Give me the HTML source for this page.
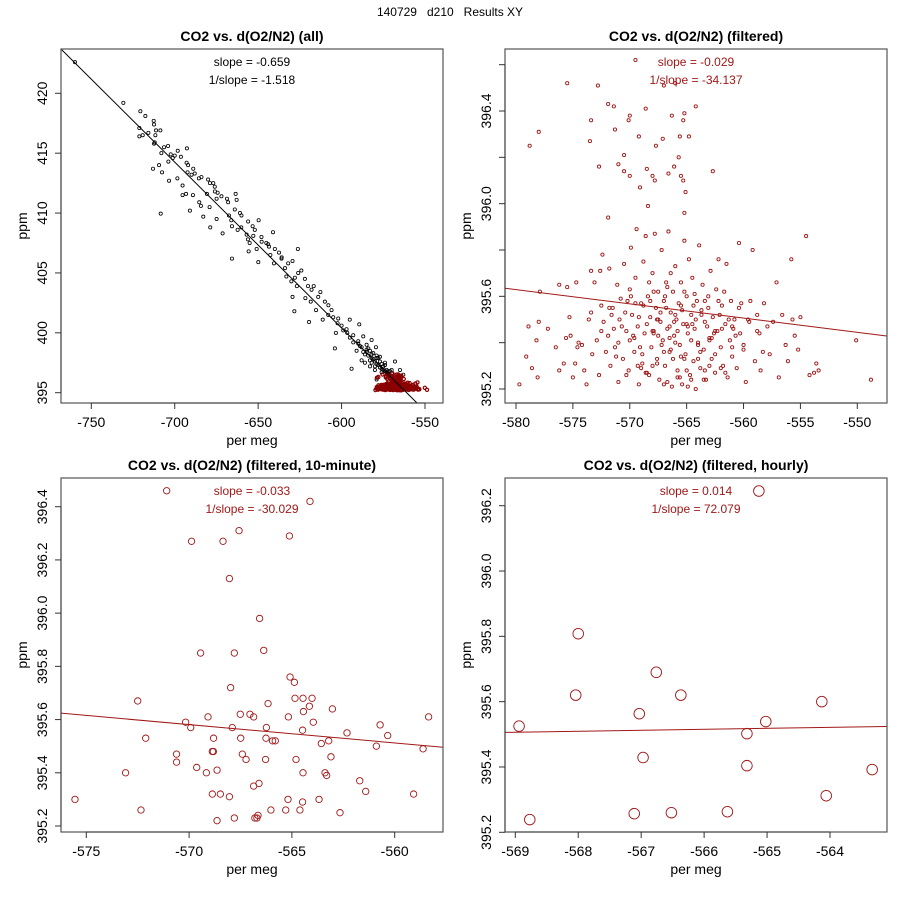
<!DOCTYPE html>
<html><head><meta charset="utf-8"><style>
body{margin:0;background:#fff;}
svg{display:block;font-family:"Liberation Sans",sans-serif;}
</style></head><body>
<svg id="chart" width="900" height="900" viewBox="0 0 900 900" xmlns="http://www.w3.org/2000/svg">
<rect x="0" y="0" width="900" height="900" fill="#fff"/>
<text x="450" y="16" font-size="12" text-anchor="middle" fill="#000" xml:space="preserve">140729   d210   Results XY</text>
</svg>
<script>
// ---- Panel 1 (all) black points ----
const allX = [-759.8,-730.8,-720.6,-717.6,-721.2,-721.2,-719.2,-715.8,-712.6,-712.4,-711.2,-708.6,-711.6,-712.4,-713,-709.4,-707.6,-708.4,-708,-706.4,-703.8,-703.4,-702.4,-701.2,-698.2,-696.3,-692.7,-692.9,-698.4,-695.3,-695.3,-693.2,-692.3,-689.9,-688.9,-690.9,-689.1,-685.5,-685.3,-682.9,-684.3,-678.9,-676.9,-674.9,-675.9,-674.3,-678.7,-680.7,-679.1,-674.9,-671.3,-668.7,-667.5,-666.1,-665.7,-662.9,-663.5,-665.7,-660.9,-662.3,-660.1,-656.9,-656.1,-655.1,-653.3,-652.9,-649.7,-650.9,-649.9,-655.7,-647.9,-645.1,-643.5,-642.7,-641.1,-640.5,-637.5,-635.9,-633.9,-629.4,-626.2,-633.1,-630.1,-628.0,-626.8,-629.4,-624.1,-621.7,-620.1,-616.7,-618.5,-612.7,-628.3,-619.5,-615.3,-607.9,-611.3,-605,-602.4,-595.1,-603.4,-604.0,-599.0,-596.6,-589.4,-593.0,-594.0,-590.0,-587.0,-585.0,-582.0,-588.0,-579.4,-583.0,-580.0,-577.0,-574.0,-579.0,-568.0,-571.0,-565.0,-563.0,-576.0,-590,-588,-586,-585,-584,-583,-582,-581,-580,-579,-578,-577,-576,-575,-574,-573,-572,-586,-583,-580,-591,-593,-595,-597,-600,-602,-606,-608,-610,-614,-618,-622,-626,-632,-636,-640,-644,-648,-652,-656,-660,-664,-668,-672,-676,-680,-684,-688,-692,-700,-704,-712,
-589,-587,-584,-582,-581,-579,-578,-576,-575,-573,-571,-570,-569,-585,-582,-579,-577,-574,-572,-570];
const allY = [422.6,419.2,418.5,418.1,417.1,416.4,416.5,416.7,417.7,417.4,416.9,416.9,416.5,415.8,413.7,414.0,413.4,409.95,415.0,415.5,414.3,412.7,414.9,414.6,415.2,414.7,415.4,414.2,412.9,412.3,411.5,411.6,413.4,413.2,413.7,410.2,411.5,412.9,410.9,409.7,410.6,412.5,412.5,411.2,411.8,411.7,408.8,411.6,410.5,409.5,408.3,411.2,409.8,409.4,408.9,411.1,411.6,406.2,410.0,408.6,408.8,408.2,407.8,407.5,408.9,408.1,409.4,407.0,405.9,406.8,407.6,407.5,407.2,406.5,408.4,405.8,406.7,406.3,405.4,406.0,407.0,404.7,404.3,404.6,403.9,403.0,405.2,402.9,403.9,403.9,402.6,403.4,401.8,400.9,401.9,402.3,401.1,401.3,400.8,401.1,400.0,398.7,400.2,400.0,400.7,399.8,397.0,399.1,399.7,398.6,399.4,397.7,398.8,397.7,397.2,398.0,397.5,396.1,397.6,396.8,396.9,396.5,396.7,399.3,398.8,398.2,399.0,398.1,398.5,397.9,398.3,397.6,397.9,397.3,397.6,397.0,397.2,396.8,396.9,396.5,397.5,397.2,396.9,398.5,399.2,399.6,400.3,400.6,401.2,401.9,401.5,402.6,403.0,403.6,404.5,405.0,405.8,406.2,407.0,407.4,408.0,408.6,409.3,409.8,410.3,410.9,411.4,412.2,412.8,413.0,413.3,414.0,414.8,415.6,415.9,
398.9,398.4,398.7,398.2,397.8,397.4,397.9,397.4,396.9,396.7,396.4,396.6,396.3,398.4,397.5,398.1,397.1,397.3,396.8,396.9];
const allFit = [-768.2, 423.7, -554.8, 394.14];

// ---- Filtered points (panel 2, also red in panel 1) ----
const filtX = [-569.5,-575.5,-572.8,-567.0,-566.0,-571.9,-571.4,-568.6,-564.2,-565.2,-573.4,-570.0,-570.1,-566.3,-565.3,-578.0,-578.8,-573.5,-571.3,-569.2,-567.1,-565.6,-564.8,-567.7,-570.5,-565.7,-572.7,-571.0,-568.5,-566.1,-562.7,-570.5,-570.0,-568.0,-566.6,-565.5,-567.8,-565.3,-569.1,-565.1,-568.4,-565.2,-571.9,
-579.7,-579.1,-578.9,-578.6,-578.2,-578.1,-578.0,-577.9,-577.2,-576.5,-576.2,-576.2,-575.8,-575.6,-575.5,-575.3,-575.2,-575.0,-574.8,-574.7,-574.6,-574.5,-574.2,-574.0,-573.8,-573.6,-573.4,-573.4,-573.3,-573.1,-572.9,-572.7,-572.6,-572.5,-572.4,-572.3,-572.1,-571.9,-571.8,-571.7,-571.5,-571.3,-571.1,-571.0,-570.9,-570.8,-570.6,-570.5,-570.3,-570.2,-570.1,-570.0,-569.9,-569.8,-569.6,-569.5,-569.4,-569.3,-569.2,-569.0,-568.9,-568.8,-568.7,-568.6,-568.4,-568.3,-568.2,-568.1,-568.0,-567.9,-567.8,-567.7,-567.6,-567.5,-567.4,-567.3,-567.2,-567.1,-567.0,-566.9,-566.8,-566.7,-566.6,-566.5,-566.4,-566.3,-566.2,-566.1,-566.0,-565.9,-565.8,-565.7,-565.6,-565.5,-565.4,-565.3,-565.2,-565.1,-565.0,-564.9,-564.8,-564.7,-564.6,-564.5,-564.4,-564.3,-564.2,-564.1,-564.0,-563.9,-563.8,-563.7,-563.6,-563.5,-563.4,-563.3,-563.1,-563.0,-562.9,-562.8,-562.7,-562.5,-562.4,-562.3,-562.2,-562.0,-561.9,-561.8,-561.6,-561.5,-561.4,-561.2,-561.1,-561.0,-560.8,-560.6,-560.4,-560.3,-560.2,-560.0,-559.8,-559.6,-559.4,-559.2,-559.0,-558.8,-558.6,-558.5,-558.3,-558.2,-557.9,-557.7,-557.4,-557.1,-556.9,-556.6,-556.3,-556.1,-555.8,-555.7,-555.5,-555.2,-555.0,-554.5,-554.2,-553.8,-553.6,-553.4,-550.1,-548.8,
-569.7,-569.1,-568.5,-568.0,-567.6,-567.2,-566.8,-566.5,-566.2,-565.8,-565.4,-565.0,-564.6,-564.2,-563.8,-563.4,-563.0,-562.6,-567.9,-566.9,-566.0,-565.2,-564.4,-568.8,-570.4,-571.4,-569.3,-566.7,-565.6,-564.9,-567.5,-568.3,-566.4,-563.2,-561.7,-560.9,-562.1,
-571.6,-571.2,-570.7,-570.3,-569.9,-569.6,-569.2,-568.9,-568.6,-568.2,-567.9,-567.6,-567.3,-567.0,-566.7,-566.4,-566.1,-565.8,-565.5,-565.2,-564.9,-564.6,-564.3,-564.0,-563.7,-563.4,-563.1,-562.8,-562.5,-562.2,-561.9,-561.6,-561.3,-561.0,-560.7,-560.4,-571.0,-570.0,-569.0,-568.0,-567.0,-566.0,-565.0,-564.0,-563.0,-562.0,-561.0,-560.0,-569.5,-568.5,-567.5,-566.5,-565.5,-564.5,-563.5,-562.5,-572.5,-571.8,-559.5,-558.8];
const filtY = [396.62,396.52,396.51,396.51,396.52,396.43,396.42,396.41,396.42,396.39,396.36,396.38,396.36,396.38,396.36,396.31,396.25,396.27,396.32,396.29,396.28,396.29,396.29,396.25,396.21,396.2,396.16,396.17,396.15,396.16,396.14,396.14,396.12,396.12,396.13,396.12,396.1,396.1,396.07,396.05,395.99,395.96,395.94,
395.22,395.34,395.47,395.29,395.41,395.25,395.49,395.62,395.46,395.38,395.65,395.28,395.31,395.42,395.64,395.51,395.43,395.25,395.31,395.66,395.38,395.4,395.39,395.28,395.22,395.5,395.71,395.53,395.35,395.66,395.41,395.26,395.71,395.56,395.78,395.49,395.36,395.43,395.72,395.3,395.55,395.38,395.65,395.23,395.5,395.59,395.33,395.74,395.45,395.58,395.28,395.41,395.81,395.52,395.36,395.68,395.89,395.47,395.22,395.57,395.31,395.75,395.44,395.86,395.6,395.26,395.51,395.38,395.7,395.45,395.87,395.55,395.33,395.62,395.24,395.49,395.8,395.41,395.58,395.3,395.66,395.46,395.88,395.36,395.53,395.21,395.62,395.43,395.73,395.5,395.28,395.57,395.39,395.66,395.22,395.48,395.84,395.35,395.6,395.44,395.76,395.26,395.52,395.68,395.32,395.46,395.2,395.58,395.4,395.82,395.29,395.54,395.65,395.37,395.49,395.24,395.6,395.42,395.71,395.33,395.51,395.27,395.63,395.45,395.76,395.38,395.56,395.3,395.48,395.74,395.25,395.41,395.58,395.34,395.5,395.29,395.83,395.44,395.57,395.37,395.23,395.5,395.58,395.8,395.32,395.52,395.44,395.28,395.36,395.57,395.47,395.35,395.49,395.66,395.25,395.52,395.39,395.32,395.76,395.5,395.43,395.37,395.51,395.86,395.26,395.27,395.31,395.28,395.41,395.24,
395.43,395.38,395.48,395.3,395.5,395.39,395.55,395.47,395.33,395.45,395.54,395.28,395.41,395.5,395.36,395.58,395.3,395.44,395.62,395.6,395.4,395.62,395.56,395.56,395.53,395.46,395.3,395.23,395.25,395.21,395.43,395.66,395.7,395.47,395.62,395.46,395.52,
395.52,395.34,395.47,395.26,395.6,395.42,395.51,395.35,395.27,395.58,395.44,395.31,395.53,395.22,395.64,395.37,395.49,395.25,395.56,395.33,395.47,395.24,395.61,395.39,395.52,395.28,395.55,395.42,395.35,395.58,395.46,395.27,395.5,395.38,395.43,395.55,395.4,395.63,395.29,395.45,395.36,395.52,395.48,395.33,395.41,395.29,395.47,395.39,395.57,395.27,395.5,395.42,395.34,395.48,395.24,395.45,395.45,395.55,395.49,395.45];
const filtFit = [-580.97, 395.635, -547.42, 395.429];

// ---- Panel 3 (10-minute) ----
const tenX = [-571.09,-564.12,-567.57,-569.88,-568.35,-565.12,-568.04,-566.57,-569.44,-567.8,-566.37,-567.98,-565.09,-564.88,-572.5,-566.16,-564.85,-564.46,-564.02,-564.15,-563.03,-564.44,-567.51,-567.04,-566.86,-569.08,-565.17,-558.35,-570.17,-563.96,-560.71,-569.92,-567.9,-566.24,-564.48,-562.32,-560.34,-572.11,-568.81,-567.49,-566.26,-565.94,-565.81,-563.21,-563.57,-560.89,-558.62,-570.61,-568.82,-568.87,-567.41,-563.1,-564.8,-566.28,-567.23,-570.61,-569.63,-568.64,-569.16,-564.46,-563.39,-563.31,-573.09,-561.7,-566.6,-566.86,-568.87,-568.48,-561.41,-559.08,-568.04,-575.55,-565.19,-564.48,-563.68,-572.34,-566.02,-565.3,-564.61,-562.66,-567.8,-566.65,-566.8,-566.7,-568.64];
const tenY = [396.46,396.42,396.31,396.27,396.27,396.29,396.13,395.98,395.85,395.85,395.86,395.72,395.76,395.74,395.67,395.66,395.68,395.68,395.68,395.65,395.64,395.63,395.62,395.62,395.61,395.61,395.61,395.61,395.59,395.59,395.58,395.57,395.57,395.57,395.56,395.55,395.54,395.53,395.53,395.53,395.53,395.52,395.52,395.52,395.51,395.5,395.49,395.47,395.48,395.48,395.47,395.46,395.45,395.45,395.45,395.44,395.42,395.41,395.4,395.4,395.4,395.39,395.4,395.37,395.36,395.35,395.32,395.32,395.33,395.32,395.31,395.3,395.3,395.29,395.3,395.26,395.26,395.26,395.26,395.25,395.23,395.24,395.23,395.23,395.22];
const tenFit = [-576.23, 395.624, -557.65, 395.496];

// ---- Panel 4 (hourly) ----
const hrX = [-565.13,-568.0,-566.76,-568.04,-566.37,-564.13,-567.03,-565.02,-568.94,-565.32,-566.97,-565.32,-563.33,-564.06,-565.63,-566.52,-567.11,-568.77];
const hrY = [396.245,395.808,395.69,395.62,395.62,395.6,395.563,395.539,395.525,395.502,395.429,395.404,395.392,395.312,395.263,395.26,395.257,395.239];
const hrFit = [-569.16, 395.506, -563.1, 395.524];

// ---- Tick arrays ----
const p1XTicks = [-750,-700,-650,-600,-550];
const p1YTicks = [395,400,405,410,415,420];
const p2XTicks = [-580,-575,-570,-565,-560,-555,-550];
const p2YTicks = [395.2,395.4,395.6,395.8,396.0,396.2,396.4,396.6];
const p2YLabels = ["395.2","","395.6","","396.0","","396.4",""];
const p3XTicks = [-575,-570,-565,-560];
const p3YTicks = [395.2,395.4,395.6,395.8,396.0,396.2,396.4];
const p4XTicks = [-569,-568,-567,-566,-565,-564];
const p4YTicks = [395.2,395.4,395.6,395.8,396.0,396.2];

const NS = "http://www.w3.org/2000/svg";
const svg = document.getElementById('chart');
const RED = "#a01818";
function mk(tag, attrs, parent){const e=document.createElementNS(NS,tag);for(const k in attrs)e.setAttribute(k,attrs[k]);(parent||svg).appendChild(e);return e;}

function panel(cfg){
  const g = mk('g',{});
  
  
  const sx = v => cfg.px0 + (v - cfg.vx0) * (cfg.px1 - cfg.px0) / (cfg.vx1 - cfg.vx0);
  const sy = v => cfg.py0 + (v - cfg.vy0) * (cfg.py1 - cfg.py0) / (cfg.vy1 - cfg.vy0);
  const L=cfg.L,R=cfg.R,T=cfg.T,B=cfg.B;
  const t = mk('text',{x:(L+R)/2,y:T-8,'font-size':14,'font-weight':'bold','text-anchor':'middle'},g);
  t.textContent = cfg.title;
  
  
  const clipId = cfg.name+'-clip';
  const cp = mk('clipPath',{id:clipId},g);
  mk('rect',{x:L,y:T,width:R-L,height:B-T},cp);
  const plot = mk('g',{'clip-path':'url(#'+clipId+')'},g);
  cfg.series.forEach(s=>{
    for(let i=0;i<s.x.length;i++){
      const c = mk('circle',{cx:sx(s.x[i]),cy:sy(s.y[i]),r:s.r,fill:'none',stroke:s.color,'stroke-width':s.sw},plot);
      
      
    }
  });
  const f = cfg.fit;
  const ln = mk('line',{x1:sx(f[0]),y1:sy(f[1]),x2:sx(f[2]),y2:sy(f[3]),stroke:cfg.fitColor,'stroke-width':1},plot);
  
  
  const fr = mk('rect',{x:L,y:T,width:R-L,height:B-T,fill:'none',stroke:'#555','stroke-width':1.2},g);
  
  
  const s1 = mk('text',{x:cfg.tx,y:T+17,'font-size':12,'text-anchor':'middle',fill:cfg.fitColor},g);
  s1.textContent = cfg.slope;
  
  
  const s2 = mk('text',{x:cfg.tx,y:T+35,'font-size':12,'text-anchor':'middle',fill:cfg.fitColor},g);
  s2.textContent = cfg.inv;
  
  
  const xa = mk('g',{},g);
  
  
  const xs = cfg.xTicks.map(sx);
  mk('line',{x1:xs[0],y1:B,x2:xs[xs.length-1],y2:B,stroke:'#333'},xa);
  cfg.xTicks.forEach((v,i)=>{
    mk('line',{x1:xs[i],y1:B,x2:xs[i],y2:B+6,stroke:'#333'},xa);
    const tl = mk('text',{x:xs[i],y:B+24,'font-size':14,'text-anchor':'middle'},xa);
    tl.textContent = String(v);
    
    
  });
  const xt = mk('text',{x:(L+R)/2,y:B+42,'font-size':14,'text-anchor':'middle'},g);
  xt.textContent = 'per meg';
  
  
  const ya = mk('g',{},g);
  
  
  const ys = cfg.yTicks.map(sy);
  mk('line',{x1:L,y1:ys[0],x2:L,y2:ys[ys.length-1],stroke:'#333'},ya);
  cfg.yTicks.forEach((v,i)=>{
    mk('line',{x1:L,y1:ys[i],x2:L-6,y2:ys[i],stroke:'#333'},ya);
    const lab = cfg.yLabels ? cfg.yLabels[i] : (cfg.yDec ? v.toFixed(cfg.yDec) : String(v));
    if(lab){
      const tx = L-14;
      const tl = mk('text',{x:tx,y:ys[i],'font-size':14,'text-anchor':'middle',transform:'rotate(-90 '+tx+' '+ys[i]+')'},ya);
      tl.textContent = lab;
      
      
    }
  });
  const yx = L-34, yy=(T+B)/2;
  const yt = mk('text',{x:yx,y:yy,'font-size':14,'text-anchor':'middle',transform:'rotate(-90 '+yx+' '+yy+')'},g);
  yt.textContent = 'ppm';
  
  
}

panel({name:'panel-all',title:'CO2 vs. d(O2/N2) (all)',L:61,R:443,T:49,B:403,
  px0:91.3,vx0:-750,px1:425,vx1:-550, py0:93.3,vy0:420,py1:392.7,vy1:395,
  xTicks:p1XTicks,yTicks:p1YTicks,fit:allFit,fitColor:'#000',tx:252,
  slope:'slope = -0.659',inv:'1/slope = -1.518',
  series:[{x:allX,y:allY,r:1.6,color:'#000',sw:0.8},{x:filtX,y:filtY,r:1.6,color:'#8b0000',sw:1.2}]});

panel({name:'panel-filtered',title:'CO2 vs. d(O2/N2) (filtered)',L:505,R:887,T:49,B:403,
  px0:516,vx0:-580,px1:857.3,vx1:-550, py0:111,vy0:396.4,py1:389,vy1:395.2,
  xTicks:p2XTicks,yTicks:p2YTicks,yLabels:p2YLabels,fit:filtFit,fitColor:RED,tx:696,
  slope:'slope = -0.029',inv:'1/slope = -34.137',
  series:[{x:filtX,y:filtY,r:1.6,color:RED,sw:0.9}]});

panel({name:'panel-10-minute',title:'CO2 vs. d(O2/N2) (filtered, 10-minute)',L:61,R:443,T:478,B:832,
  px0:86.3,vx0:-575,px1:394.7,vx1:-560, py0:506.7,vy0:396.4,py1:826,vy1:395.2,
  xTicks:p3XTicks,yTicks:p3YTicks,yDec:1,fit:tenFit,fitColor:RED,tx:252,
  slope:'slope = -0.033',inv:'1/slope = -30.029',
  series:[{x:tenX,y:tenY,r:3.2,color:RED,sw:0.9}]});

panel({name:'panel-hourly',title:'CO2 vs. d(O2/N2) (filtered, hourly)',L:505,R:887,T:478,B:832,
  px0:515.3,vx0:-569,px1:830,vx1:-564, py0:505.7,vy0:396.2,py1:832.3,vy1:395.2,
  xTicks:p4XTicks,yTicks:p4YTicks,yDec:1,fit:hrFit,fitColor:RED,tx:696,
  slope:'slope = 0.014',inv:'1/slope = 72.079',
  series:[{x:hrX,y:hrY,r:5.3,color:RED,sw:0.9}]});
</script>
</body></html>
